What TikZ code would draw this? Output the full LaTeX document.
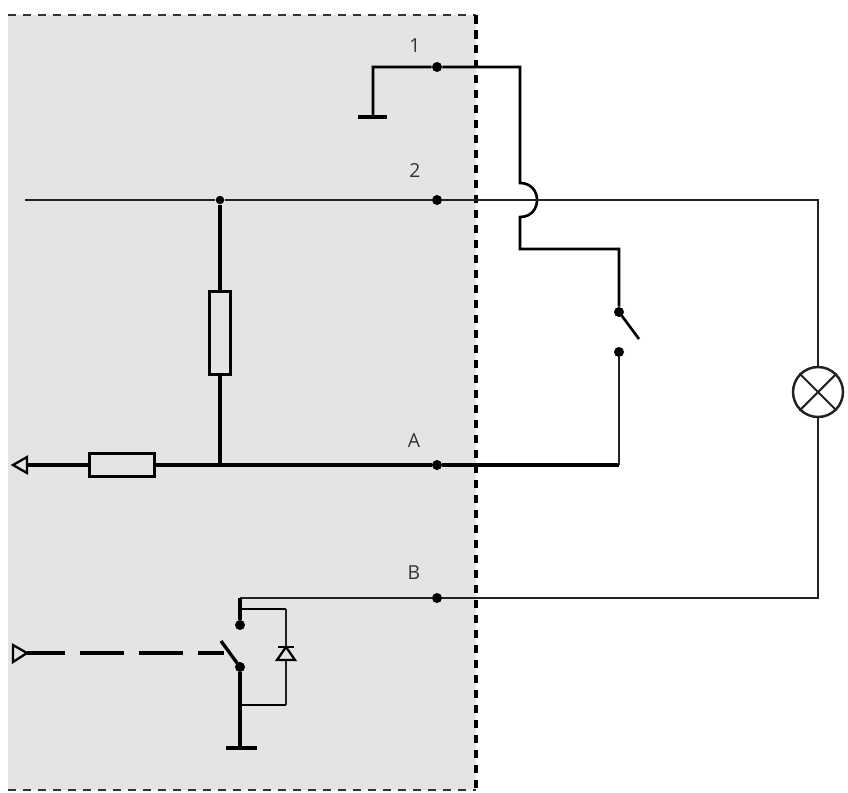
\documentclass[tikz,border=0pt]{standalone}
\usepackage{fontspec}
\setmainfont{Open Sans}
\definecolor{boxgray}{HTML}{E4E4E4}
\definecolor{wirecol}{HTML}{222222}
\begin{document}
\begin{tikzpicture}
    [
    x=0.02cm, y=-0.02cm,
    wire/.style={draw=wirecol, line width=0.85pt, line join=miter},
    thickwire/.style={draw=black, line width=1.9pt, line join=miter},
    border/.style={draw=black, line width=1.8pt, dash pattern=on 0.17cm off 0.13cm},
    thinborder/.style={draw=black!80, line width=1pt, dash pattern=on 0.17cm off 0.13cm},
    dot/.style={circle, fill=black, inner sep=0pt, minimum size=0.2cm},
    res/.style={draw=black, fill=boxgray, line width=1.5pt, inner sep=0pt},
    tip/.style={draw=black, line width=1.3pt, fill=boxgray, line join=miter},
    pin/.style={font=\fontsize{11}{13}\selectfont, text=black!80, inner sep=0pt},
    lamp/.style={circle, draw=wirecol, line width=1.4pt, fill=white, inner sep=0pt, minimum size=1cm}
    ]
    \useasboundingbox (0,0) rectangle (848,792);

% Shaded housing
    \fill[boxgray] (8,15) rectangle (476,790);
    \draw[thinborder] (8,15) -- (476,15);
    \draw[thinborder] (8,790) -- (476,790);
    \draw[border] (476,15) -- (476,790);

% Terminals
    \node[dot] (d1) at (437,67) {};
    \node[dot] (d2) at (437,200) {};
    \node[dot] (dA) at (437,465) {};
    \node[dot] (dB) at (437,598) {};
    \node[pin] (l1) at (415,46) {1};
    \node[pin] (l2) at (415,170) {2};
    \node[pin] (lA) at (414,441) {A};
    \node[pin] (lB) at (414,573) {B};

% Terminal 1 to the outer switch
    \coordinate (g1) at (373,117);
    \coordinate (g1l) at (358,117);
    \coordinate (g1r) at (387,117);
    \coordinate (c1) at (373,67);
    \coordinate (c2) at (520,67);
    \coordinate (hop1) at (520,183);
    \coordinate (hop2) at (520,217);
    \coordinate (c3) at (520,249);
    \coordinate (c4) at (619,249);
    \node[dot] (s1) at (619,312) {};
    \node[dot] (s2) at (619,352) {};
    \coordinate (s3) at (639,339);
    \coordinate (c5) at (619,465);
    \draw[thickwire] (g1l) -- (g1r);
    \draw[thickwire, line width=1.5pt] (g1) -- (c1) -- (d1) -- (c2) -- (hop1)
        .. controls +(22.7,0) and +(22.7,0) .. (hop2) -- (c3) -- (c4) -- (s1);
    \draw[thickwire, line width=1.5pt] (s1.center) -- (s3);
    \draw[wire] (s2) -- (c5);

% Terminal 2 and the lamp
    \coordinate (w0) at (25,200);
    \node[dot, minimum size=0.17cm] (j1) at (220,200) {};
    \coordinate (c6) at (818,200);
    \coordinate (c7) at (818,598);
    \node[lamp] (lp) at (818,392) {};
    \draw[wire] (w0) -- (j1) -- (d2) -- (c6) -- (lp) -- (c7) -- (dB);
    \draw[wire, line width=1.2pt] (lp.45) -- (lp.225);
    \draw[wire, line width=1.2pt] (lp.135) -- (lp.315);

% Resistors
    \node[res, minimum width=0.42cm, minimum height=1.66cm] (r1) at (220,333) {};
    \node[res, minimum width=1.3cm, minimum height=0.46cm] (r2) at (122,465) {};
    \coordinate (j2) at (220,465);
    \draw[thickwire] (j1) -- (r1);
    \draw[thickwire] (r1) -- (j2);

% Terminal A
    \coordinate (ta1) at (13,465);
    \coordinate (ta2) at (27,457);
    \coordinate (ta3) at (27,473);
    \coordinate (ta) at (27,465);
    \draw[tip] (ta1) -- (ta2) -- (ta3) -- cycle;
    \draw[thickwire] (ta) -- (r2);
    \draw[thickwire] (r2) -- (j2) -- (dA) -- (c5);

% Relay contact and diode
    \coordinate (c8) at (240,598);
    \coordinate (c9) at (240,609);
    \coordinate (c10) at (286,609);
    \coordinate (c11) at (286,705);
    \coordinate (c12) at (240,705);
    \node[dot] (s4) at (240,625) {};
    \node[dot] (s5) at (240,667) {};
    \coordinate (s6) at (221,641);
    \coordinate (g2) at (240,748);
    \coordinate (g2l) at (226,748);
    \coordinate (g2r) at (257,748);
    \draw[wire] (dB) -- (c8);
    \draw[thickwire] (c8) -- (s4);
    \draw[thickwire] (s5.center) -- (s6);
    \draw[thickwire] (s5) -- (g2);
    \draw[thickwire] (g2l) -- (g2r);
    \draw[thickwire, line width=1.5pt] (c9) -- (c10);
    \draw[thickwire, line width=1.5pt] (c12) -- (c11);
    \draw[wire] (c10) -- (c11);
    \coordinate (d0) at (286,647);
    \coordinate (d0l) at (278,647);
    \coordinate (d0r) at (294,647);
    \coordinate (d3) at (277,660);
    \coordinate (d4) at (295,660);
    \draw[tip] (d0) -- (d3) -- (d4) -- cycle;
    \draw[tip] (d0l) -- (d0r);

% Control input
    \coordinate (t1) at (13,645);
    \coordinate (t2) at (27,653);
    \coordinate (t3) at (13,662);
    \coordinate (s7) at (224,653);
    \draw[tip] (t1) -- (t2) -- (t3) -- cycle;
    \draw[thickwire, dash pattern=on 0.88cm off 0.3cm, dash phase=0.12cm] (t2) -- (s7);
\end{tikzpicture}
\end{document}
